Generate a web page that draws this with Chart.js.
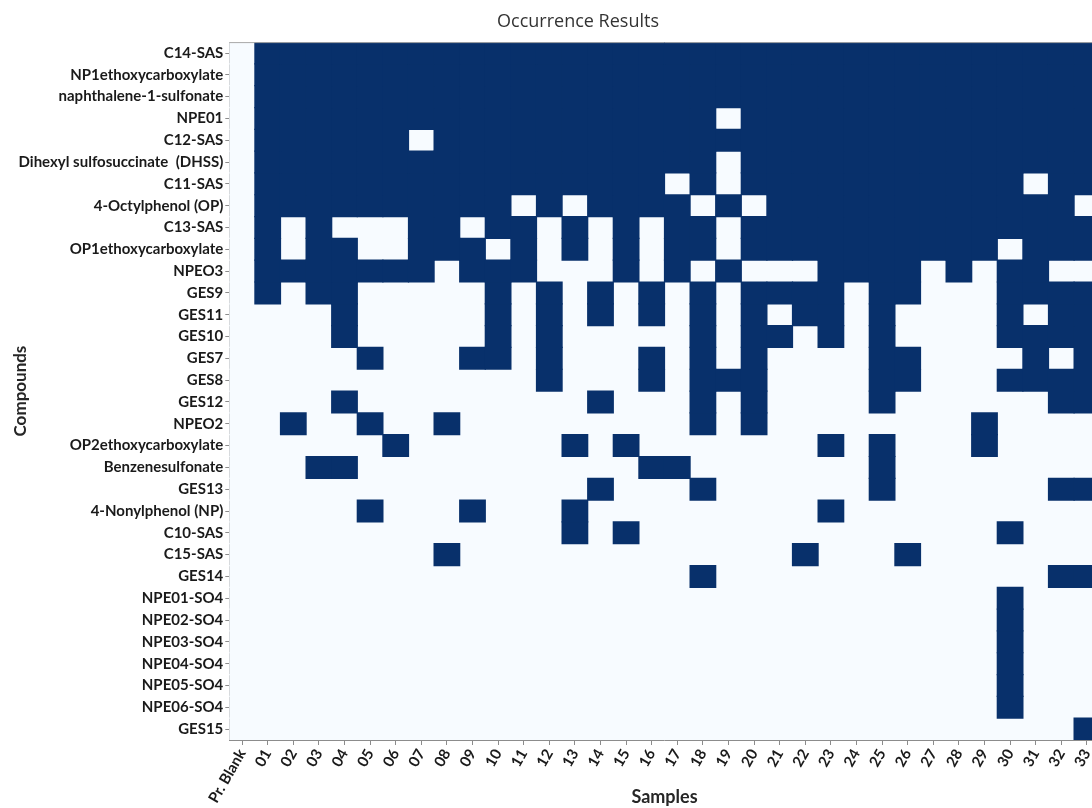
<!DOCTYPE html>
<html>
<head>
<meta charset="utf-8">
<script src="https://cdn.jsdelivr.net/npm/chart.js@4/dist/chart.umd.min.js"></script>
<style>
html, body { margin: 0; padding: 0; overflow: hidden; background: #ffffff; width: 1092px; height: 808px; }
#wrap { position: absolute; left: 0; top: 0; width: 1156px; height: 808px; }
</style>
</head>
<body>
<div id="wrap"><canvas id="chart" width="1156" height="808"></canvas></div>
<script>
// ---- data ----
const chartTitle = 'Occurrence Results';
const xTitle = 'Samples';
const yTitle = 'Compounds';

const compounds = [
  'C14-SAS', 'NP1ethoxycarboxylate', 'naphthalene-1-sulfonate', 'NPE01', 'C12-SAS',
  'Dihexyl sulfosuccinate  (DHSS)', 'C11-SAS', '4-Octylphenol (OP)', 'C13-SAS',
  'OP1ethoxycarboxylate', 'NPEO3', 'GES9', 'GES11', 'GES10', 'GES7', 'GES8', 'GES12',
  'NPEO2', 'OP2ethoxycarboxylate', 'Benzenesulfonate', 'GES13', '4-Nonylphenol (NP)',
  'C10-SAS', 'C15-SAS', 'GES14', 'NPE01-SO4', 'NPE02-SO4', 'NPE03-SO4', 'NPE04-SO4',
  'NPE05-SO4', 'NPE06-SO4', 'GES15'
];

const samples = [
  'Pr. Blank', '01', '02', '03', '04', '05', '06', '07', '08', '09', '10',
  '11', '12', '13', '14', '15', '16', '17', '18', '19', '20',
  '21', '22', '23', '24', '25', '26', '27', '28', '29', '30',
  '31', '32', '33'
];

// 1 = detected, 0 = not detected; one string per compound, one character per sample
const occurrence = [
  '0111111111' + '1111111111' + '1111111111' + '1111', // C14-SAS
  '0111111111' + '1111111111' + '1111111111' + '1111', // NP1ethoxycarboxylate
  '0111111111' + '1111111111' + '1111111111' + '1111', // naphthalene-1-sulfonate
  '0111111111' + '1111111110' + '1111111111' + '1111', // NPE01
  '0111111011' + '1111111111' + '1111111111' + '1111', // C12-SAS
  '0111111111' + '1111111110' + '1111111111' + '1111', // DHSS
  '0111111111' + '1111111010' + '1111111111' + '1011', // C11-SAS
  '0111111111' + '1010111101' + '0111111111' + '1110', // 4-Octylphenol
  '0101000110' + '1101010110' + '1111111111' + '1111', // C13-SAS
  '0101100111' + '0101010110' + '1111111111' + '0111', // OP1ethoxycarboxylate
  '0111111101' + '1100010101' + '0001111010' + '1100', // NPEO3
  '0101100000' + '1010101010' + '1111011000' + '1111', // GES9
  '0000100000' + '1010101010' + '1011010000' + '1011', // GES11
  '0000100000' + '1010000010' + '1101010000' + '1111', // GES10
  '0000010001' + '1010001010' + '1000011000' + '0101', // GES7
  '0000000000' + '0010001011' + '1000011000' + '1111', // GES8
  '0000100000' + '0000100010' + '1000010000' + '0011', // GES12
  '0010010010' + '0000000010' + '1000000001' + '0000', // NPEO2
  '0000001000' + '0001010000' + '0001010001' + '0000', // OP2ethoxycarboxylate
  '0001100000' + '0000001100' + '0000010000' + '0000', // Benzenesulfonate
  '0000000000' + '0000100010' + '0000010000' + '0011', // GES13
  '0000010001' + '0001000000' + '0001000000' + '0000', // 4-Nonylphenol
  '0000000000' + '0001010000' + '0000000000' + '1000', // C10-SAS
  '0000000010' + '0000000000' + '0010001000' + '0000', // C15-SAS
  '0000000000' + '0000000010' + '0000000000' + '0011', // GES14
  '0000000000' + '0000000000' + '0000000000' + '1000', // NPE01-SO4
  '0000000000' + '0000000000' + '0000000000' + '1000', // NPE02-SO4
  '0000000000' + '0000000000' + '0000000000' + '1000', // NPE03-SO4
  '0000000000' + '0000000000' + '0000000000' + '1000', // NPE04-SO4
  '0000000000' + '0000000000' + '0000000000' + '1000', // NPE05-SO4
  '0000000000' + '0000000000' + '0000000000' + '1000', // NPE06-SO4
  '0000000000' + '0000000000' + '0000000000' + '0001'  // GES15
];

// ---- styles ----
const DARK = '#08306b';
const LIGHT = '#f7fbff';
const AXIS_GREY = '#8c8c8c';

// floating bars: every cell spans [row, row + 1] on the compound axis.
// detected cells (order 0) are drawn on top of not-detected cells (order 1).
function cellDatasets(flag, color, order) {
  return compounds.map((name, r) => ({
    label: name + (flag === '1' ? ' detected' : ' not detected'),
    data: samples.map((_, c) => (occurrence[r][c] === flag ? [r, r + 1] : null)),
    backgroundColor: color,
    borderWidth: 0,
    inflateAmount: 0.6,
    barPercentage: 1.0,
    categoryPercentage: 1.0,
    grouped: false,
    order: order
  }));
}
const datasets = [...cellDatasets('1', DARK, 0), ...cellDatasets('0', LIGHT, 1)];

const framePlugin = {
  id: 'frame',
  afterDatasetsDraw(chart) {
    const a = chart.chartArea, ctx = chart.ctx;
    ctx.save();
    ctx.strokeStyle = '#a8a8a8';
    ctx.lineWidth = 1;
    ctx.beginPath();
    ctx.moveTo(a.left, a.top + 0.5);
    ctx.lineTo(a.right, a.top + 0.5);
    ctx.stroke();
    ctx.restore();
  }
};

Chart.defaults.font.family = "Lato, 'Open Sans', sans-serif";

new Chart(document.getElementById('chart'), {
  type: 'bar',
  data: { labels: samples, datasets },
  plugins: [framePlugin],
  options: {
    responsive: false,
    animation: false,
    layout: { padding: 0 },
    plugins: {
      legend: { display: false },
      tooltip: { enabled: false },
      title: {
        display: true,
        text: chartTitle,
        color: '#333333',
        font: { family: "'Open Sans', sans-serif", size: 18, weight: 'normal' },
        padding: { top: 11, bottom: 9.5 }
      }
    },
    scales: {
      x: {
        type: 'category',
        offset: true,
        grid: { display: true, drawOnChartArea: false, drawTicks: true, tickLength: 5, offset: false, color: AXIS_GREY },
        border: { display: true, color: AXIS_GREY, width: 1 },
        ticks: {
          autoSkip: false, minRotation: 60, maxRotation: 60, padding: 1,
          color: '#1a1a1a', font: { size: 15, weight: 'bold' }
        },
        title: {
          display: true, text: xTitle, color: '#262626',
          font: { size: 18, weight: 'bold' }, padding: { top: 0, bottom: 0 }
        },
        afterFit: s => { s.height = 68; }
      },
      y: {
        type: 'linear',
        min: 0,
        max: compounds.length,
        reverse: true,
        afterBuildTicks: s => { s.ticks = compounds.map((_, i) => ({ value: i + 0.5 })); },
        grid: { display: true, drawOnChartArea: false, drawTicks: true, tickLength: 4, color: AXIS_GREY },
        border: { display: true, color: AXIS_GREY, width: 1 },
        ticks: {
          autoSkip: false, padding: 2, color: '#1a1a1a',
          font: { size: 15, weight: 'bold' },
          callback: v => compounds[Math.floor(v)]
        },
        title: {
          display: true, text: yTitle, color: '#262626',
          font: { size: 17, weight: 'bold' }, padding: { top: 10, bottom: 0 }
        },
        afterFit: s => { s.width = 229.3; }
      },
      yRight: {
        type: 'linear',
        position: 'right',
        display: true,
        grid: { display: false, drawTicks: false },
        border: { display: false },
        ticks: { display: false },
        afterFit: s => { s.width = 56.3; }
      }
    }
  }
});
</script>
</body>
</html>
